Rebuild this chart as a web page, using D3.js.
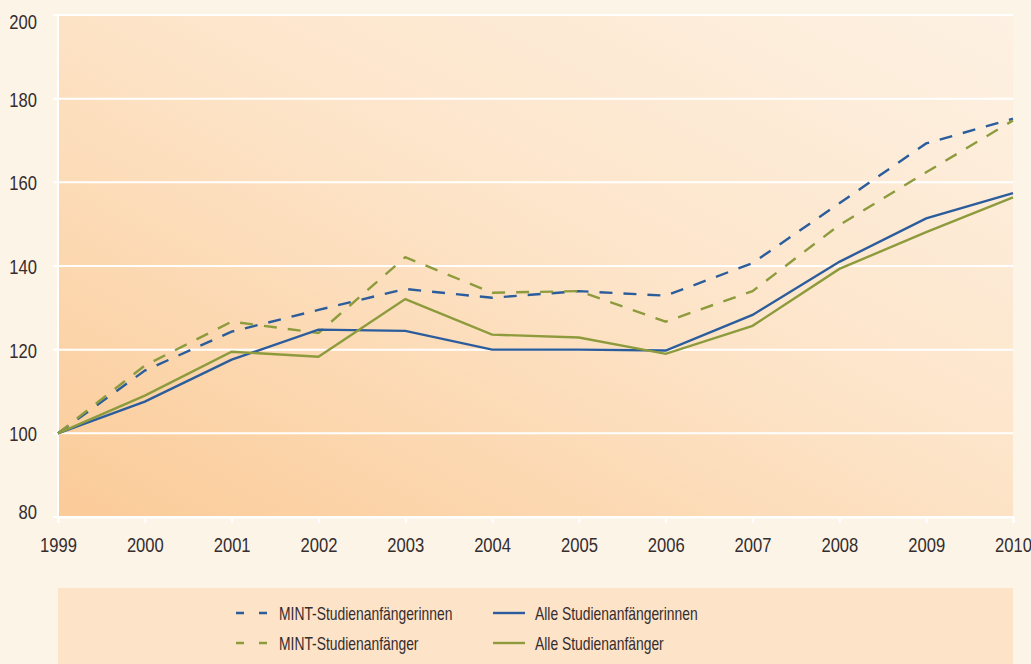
<!DOCTYPE html>
<html>
<head>
<meta charset="utf-8">
<script src="https://cdn.jsdelivr.net/npm/d3@7"></script>
<style>
  html, body { margin: 0; padding: 0; background: #fdf4e8; }
  svg { display: block; font-family: "Liberation Sans", Arial, sans-serif; }
</style>
</head>
<body>
<div id="chart"></div>
<script>
var years = [1999, 2000, 2001, 2002, 2003, 2004, 2005, 2006, 2007, 2008, 2009, 2010];
var yTicks = [80, 100, 120, 140, 160, 180, 200];

var mintFrauen = [100, 115, 124.3, 129.5, 134.5, 132.4, 134, 132.9, 140.7, 155, 169.3, 175.2];
var mintMaenner = [100, 116.2, 126.7, 124, 142.1, 133.6, 134, 126.7, 134, 149.8, 162.4, 174.8];
var alleFrauen = [100, 107.6, 117.6, 124.8, 124.5, 120, 120, 119.8, 128.3, 141, 151.4, 157.4];
var alleMaenner = [100, 109, 119.5, 118.3, 132.1, 123.6, 122.9, 119, 125.7, 139.3, 148.1, 156.4];

var seriesNames = ["MINT-Studienanfängerinnen", "MINT-Studienanfänger", "Alle Studienanfängerinnen", "Alle Studienanfänger"];

var width = 1031, height = 664;
var margin = { top: 15, right: 18, bottom: 147, left: 58 };
var blue = "#2b5d9c", green = "#8d9b3d";
var textColor = "#352d2e";

var series = [
  { name: seriesNames[0], values: mintFrauen, color: blue, dash: "13,11" },
  { name: seriesNames[1], values: mintMaenner, color: green, dash: "13,11" },
  { name: seriesNames[2], values: alleFrauen, color: blue, dash: null },
  { name: seriesNames[3], values: alleMaenner, color: green, dash: null }
];

var svg = d3.select("#chart").append("svg")
  .attr("width", width)
  .attr("height", height);

var defs = svg.append("defs");
var grad = defs.append("linearGradient")
  .attr("id", "bg")
  .attr("x1", "0%").attr("y1", "100%")
  .attr("x2", "100%").attr("y2", "0%");
grad.append("stop").attr("offset", "0%").attr("stop-color", "#fbcb98");
grad.append("stop").attr("offset", "55%").attr("stop-color", "#fde5ca");
grad.append("stop").attr("offset", "100%").attr("stop-color", "#fdf1e3");

var x = d3.scaleLinear()
  .domain([1999, 2010])
  .range([margin.left, width - margin.right]);

var y = d3.scaleLinear()
  .domain([80, 200])
  .range([height - margin.bottom, margin.top]);

/* plot background */
svg.append("rect")
  .attr("x", margin.left)
  .attr("y", margin.top)
  .attr("width", width - margin.right - margin.left)
  .attr("height", height - margin.bottom - margin.top)
  .attr("fill", "url(#bg)");

/* grid lines */
svg.append("g")
  .selectAll("line")
  .data(yTicks)
  .join("line")
  .attr("x1", margin.left - 5)
  .attr("x2", width - margin.right)
  .attr("y1", d => y(d))
  .attr("y2", d => y(d))
  .attr("stroke", "#fff")
  .attr("stroke-width", 2);

svg.append("line")
  .attr("x1", margin.left).attr("x2", margin.left)
  .attr("y1", margin.top).attr("y2", height - margin.bottom)
  .attr("stroke", "#fff").attr("stroke-width", 2);

/* axes */
var xAxis = d3.axisBottom(x).tickValues(years).tickFormat(d3.format("d")).tickSize(6).tickPadding(14);
var yAxis = d3.axisLeft(y).tickValues(yTicks).tickSize(0).tickPadding(20);

// the original uses a condensed face, so squeeze the labels horizontally
var gx = svg.append("g").attr("transform", `translate(0,${height - margin.bottom})`).call(xAxis);
gx.select(".domain").attr("stroke", "#fff").attr("stroke-width", 2);
gx.selectAll(".tick line").attr("stroke", "#fff").attr("stroke-width", 2);
gx.selectAll(".tick text")
  .attr("dy", "0.71em")
  .attr("fill", textColor)
  .attr("transform", "scale(0.79,1)")
  .style("font-size", "21px");

var gy = svg.append("g").attr("transform", `translate(${margin.left},0)`).call(yAxis);
gy.select(".domain").remove();
gy.selectAll(".tick text")
  .attr("x", 0)
  .attr("transform", "translate(-21,0) scale(0.79,1)")
  .attr("fill", textColor)
  .style("font-size", "21px")
  .attr("dy", d => d === 200 ? "0.62em" : d === 80 ? "0.05em" : "0.36em");

/* lines */
var line = d3.line()
  .x((d, i) => x(years[i]))
  .y(d => y(d));

svg.append("g")
  .selectAll("path")
  .data(series)
  .join("path")
  .attr("d", d => line(d.values))
  .attr("fill", "none")
  .attr("stroke", d => d.color)
  .attr("stroke-width", 2.4)
  .attr("stroke-dasharray", d => d.dash);

/* legend */
var legY = 588;
svg.append("rect")
  .attr("x", margin.left)
  .attr("y", legY)
  .attr("width", width - margin.right - margin.left)
  .attr("height", height - legY)
  .attr("fill", "#fde3c8");

var legPos = [
  { x: 236, y: 613 },
  { x: 236, y: 643 },
  { x: 493, y: 613 },
  { x: 493, y: 643 }
];

var leg = svg.append("g")
  .selectAll("g")
  .data(series)
  .join("g")
  .attr("transform", (d, i) => `translate(${legPos[i].x},${legPos[i].y})`);

leg.append("line")
  .attr("x1", 0).attr("x2", d => d.dash ? 31 : 32)
  .attr("y1", 0).attr("y2", 0)
  .attr("stroke", d => d.color)
  .attr("stroke-width", 2.4)
  .attr("stroke-dasharray", d => d.dash ? "8,15" : null);

leg.append("text")
  .attr("x", 0)
  .attr("y", 0)
  .attr("dy", "0.35em")
  .attr("transform", d => `translate(${d.dash ? 43 : 42},0) scale(0.73,1)`)
  .attr("fill", textColor)
  .style("font-size", "19px")
  .text(d => d.name);
</script>
</body>
</html>
